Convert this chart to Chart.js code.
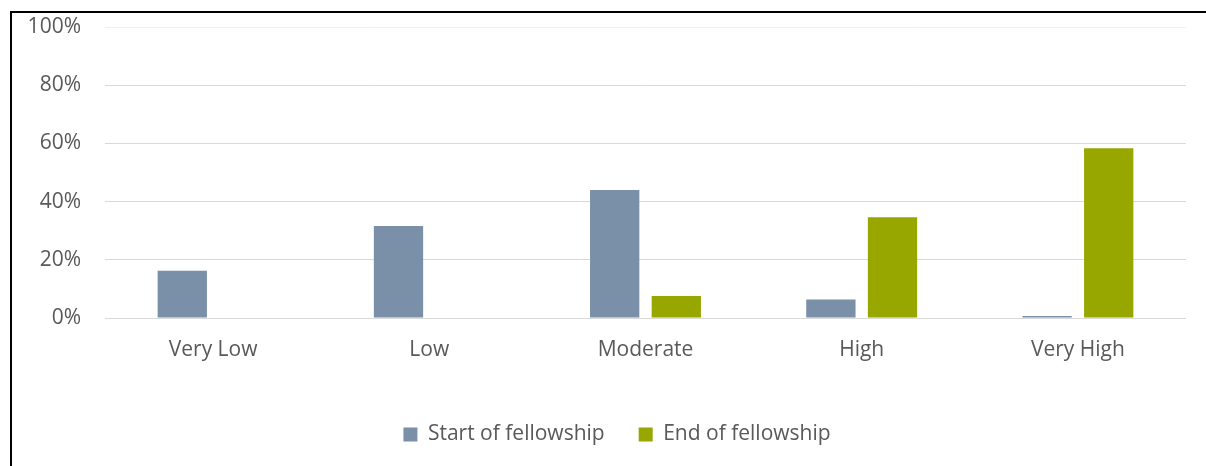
<!DOCTYPE html>
<html>
<head>
<meta charset="utf-8">
<script src="https://cdn.jsdelivr.net/npm/chart.js@4/dist/chart.umd.min.js"></script>
<style>
  html, body { margin: 0; padding: 0; background: #fff; }
  #wrap { position: relative; width: 1206px; height: 466px; overflow: hidden; }
  #frame { position: absolute; left: 10px; top: 11px; width: 1196px; height: 455px;
           border-left: 2px solid #000; border-top: 2px solid #000; box-sizing: border-box; }
  canvas { position: absolute; left: 0; top: 0; }
</style>
</head>
<body>
<div id="wrap">
  <div id="frame"></div>
  <canvas id="chart" width="1206" height="466"></canvas>
</div>
<script>
// Share of fellows at each level, start vs end of the fellowship (percent)
const categories = ['Very Low', 'Low', 'Moderate', 'High', 'Very High'];
const startValues = [16.2, 31.6, 44.0, 6.4, 0.7];
const endValues = [0, 0, 7.6, 34.6, 58.3];
const seriesNames = ['Start of fellowship', 'End of fellowship'];
const yTicks = [0, 20, 40, 60, 80, 100];

const textColor = '#595959';
const font = { family: '"Open Sans", Lato, sans-serif', size: 21 };

// Narrow the legend box from the left so its centred items sit a little right of the canvas centre
const legendOffset = {
  id: 'legendOffset',
  afterLayout(chart) {
    if (chart.legend) chart.legend.left += 48;
  }
};

new Chart(document.getElementById('chart'), {
  type: 'bar',
  data: {
    labels: categories,
    datasets: [
      { label: seriesNames[0], data: startValues, backgroundColor: '#7A8FA8', borderWidth: 0 },
      { label: seriesNames[1], data: endValues, backgroundColor: '#97A700', borderWidth: 0 }
    ]
  },
  plugins: [legendOffset],
  options: {
    responsive: false,
    animation: false,
    layout: { padding: { top: 27, right: 20, bottom: 16, left: 0 } },
    datasets: { bar: { categoryPercentage: 0.57, barPercentage: 0.8 } },
    scales: {
      x: {
        grid: { display: false, drawTicks: false },
        border: { display: false },
        ticks: { color: textColor, font: font, padding: 19 },
        afterFit: (s) => { s.height = 72; s.paddingLeft = 0; s.paddingRight = 0; }
      },
      y: {
        min: 0, max: 100,
        afterBuildTicks: (s) => { s.ticks = yTicks.map(v => ({ value: v })); },
        afterFit: (s) => { s.width = 105; s.paddingTop = 0; s.paddingBottom = 0; },
        grid: {
          drawTicks: false,
          color: (c) => (c.tick && c.tick.value === 100 ? '#f0f0f0' : '#d9d9d9'),
          lineWidth: 1
        },
        border: { display: false },
        ticks: { color: textColor, font: font, padding: 24, callback: (v) => v + '%' }
      }
    },
    plugins: {
      legend: {
        position: 'bottom',
        maxHeight: 60,
        labels: { color: textColor, font: font, boxWidth: 14, boxHeight: 14, padding: 34 }
      },
      tooltip: { enabled: false }
    }
  }
});
</script>
</body>
</html>
